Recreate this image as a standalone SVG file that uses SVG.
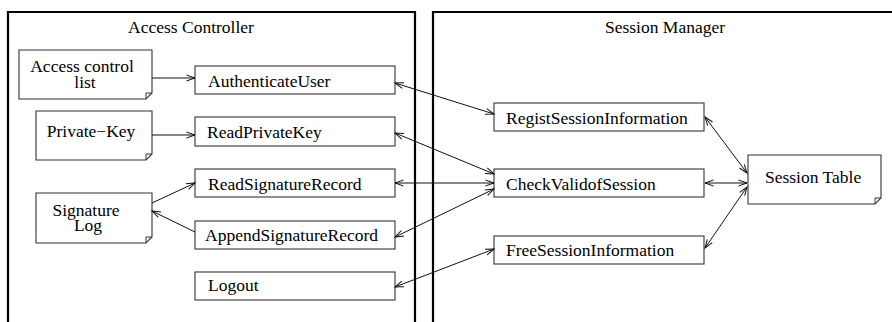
<svg xmlns="http://www.w3.org/2000/svg" width="892" height="322" viewBox="0 0 892 322">
<style>
.frame{fill:none;stroke:#000;stroke-width:2.2}
.box{fill:#fff;stroke:#333;stroke-width:1.1}
.note{fill:#fff;stroke:#333;stroke-width:1.1}
.fold{fill:none;stroke:#333;stroke-width:1}
text{font-family:"Liberation Serif","Times New Roman",serif;font-size:17.5px;fill:#000}
.c{text-anchor:middle}
.conn line{stroke:#111;stroke-width:1}
</style>
<defs>
<marker id="ah" markerUnits="userSpaceOnUse" markerWidth="12" markerHeight="10" viewBox="-10 -5 12 10" refX="0" refY="0" orient="auto-start-reverse">
<path d="M-8.5,-3 L0,0 L-8.5,3" fill="none" stroke="#111" stroke-width="1"/>
</marker>
</defs>
<rect width="892" height="322" fill="#fff"/>
<g id="access-controller">
<path class="frame" d="M8,322 V12 H415 V322"/>
<text class="c" x="191" y="33">Access Controller</text>
</g>
<g id="session-manager">
<path class="frame" d="M433,322 V12 H892"/>
<text class="c" x="665" y="33">Session Manager</text>
</g>
<g id="access-control-list">
<path class="note" d="M19,50 H152 V93 L146,99 H19 Z"/>
<path class="fold" d="M146,99 V93 H152"/>
<text class="c" x="82" y="72">Access control</text>
<text class="c" x="85" y="88">list</text>
</g>
<g id="private-key">
<path class="note" d="M36,111 H152 V154 L146,160 H36 Z"/>
<path class="fold" d="M146,160 V154 H152"/>
<text class="c" x="91" y="137">Private−Key</text>
</g>
<g id="signature-log">
<path class="note" d="M36,193 H152 V237 L146,243 H36 Z"/>
<path class="fold" d="M146,243 V237 H152"/>
<text class="c" x="86" y="216">Signature</text>
<text class="c" x="88" y="231">Log</text>
</g>
<g id="authenticate-user">
<rect class="box" x="195" y="66" width="200" height="28"/>
<text x="208" y="87">AuthenticateUser</text>
</g>
<g id="read-private-key">
<rect class="box" x="195" y="117" width="200" height="29"/>
<text x="207" y="137.5">ReadPrivateKey</text>
</g>
<g id="read-signature-record">
<rect class="box" x="195" y="169" width="200" height="28"/>
<text x="208" y="189.5">ReadSignatureRecord</text>
</g>
<g id="append-signature-record">
<rect class="box" x="195" y="221" width="200" height="28"/>
<text x="205" y="240.5">AppendSignatureRecord</text>
</g>
<g id="logout">
<rect class="box" x="195" y="272" width="200" height="28"/>
<text x="208" y="291">Logout</text>
</g>
<g id="regist-session-information">
<rect class="box" x="494" y="103" width="210" height="28"/>
<text x="506" y="124">RegistSessionInformation</text>
</g>
<g id="check-valid-of-session">
<rect class="box" x="494" y="169" width="210" height="28"/>
<text x="506" y="189.5">CheckValidofSession</text>
</g>
<g id="free-session-information">
<rect class="box" x="494" y="236" width="210" height="28"/>
<text x="506" y="256">FreeSessionInformation</text>
</g>
<g id="session-table">
<path class="note" d="M748,155 H881 V198 L875,204 H748 Z"/>
<path class="fold" d="M875,204 V198 H881"/>
<text x="765" y="183">Session Table</text>
</g>
<g id="connectors" class="conn">
<line x1="152" y1="78" x2="195" y2="78" marker-end="url(#ah)"/>
<line x1="152" y1="135" x2="195" y2="135" marker-end="url(#ah)"/>
<line x1="152" y1="203" x2="195" y2="183" marker-end="url(#ah)"/>
<line x1="195" y1="232" x2="152" y2="211" marker-end="url(#ah)"/>
<line x1="395" y1="83" x2="494" y2="114" marker-start="url(#ah)" marker-end="url(#ah)"/>
<line x1="395" y1="133" x2="494" y2="174" marker-start="url(#ah)" marker-end="url(#ah)"/>
<line x1="395" y1="183" x2="494" y2="183" marker-start="url(#ah)" marker-end="url(#ah)"/>
<line x1="395" y1="237" x2="494" y2="189" marker-start="url(#ah)" marker-end="url(#ah)"/>
<line x1="395" y1="287" x2="494" y2="249" marker-start="url(#ah)" marker-end="url(#ah)"/>
<line x1="705" y1="117" x2="747" y2="173" marker-start="url(#ah)" marker-end="url(#ah)"/>
<line x1="705" y1="183" x2="747" y2="183" marker-start="url(#ah)" marker-end="url(#ah)"/>
<line x1="705" y1="248" x2="747" y2="187" marker-start="url(#ah)" marker-end="url(#ah)"/>
</g>
</svg>
